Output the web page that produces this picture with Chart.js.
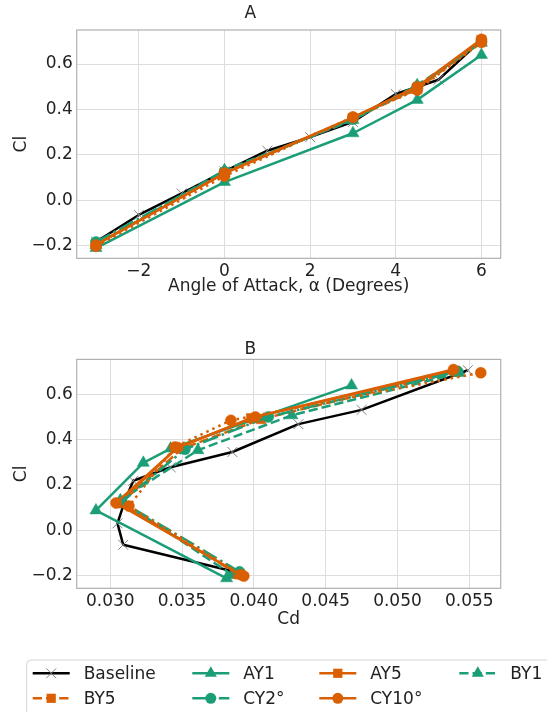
<!DOCTYPE html>
<html>
<head>
<meta charset="utf-8">
<title>Cl vs alpha and drag polar</title>
<script src="https://cdn.jsdelivr.net/npm/chart.js@4.4.1/dist/chart.umd.min.js"></script>
<style>
body { margin: 0; background: #fff; }
canvas { position: absolute; left: 0; }
#liftChart { top: 0; }
#polarChart { top: 329px; }
#legendBox { top: 640px; }
</style>
</head>
<body>
<canvas id="liftChart" width="547" height="300"></canvas>
<canvas id="polarChart" width="547" height="302"></canvas>
<canvas id="legendBox" width="547" height="72"></canvas>

<script>
// angles of attack, degrees
var alphaBase = [-3, -2, -1, 0, 1, 2, 3, 4, 5, 6];
var alpha = [-3, 0, 3, 4.5, 6];

// baseline wing
var baseCl = [-0.183, -0.065, 0.03, 0.127, 0.218, 0.278, 0.345, 0.468, 0.531, 0.706];
var baseCd = [0.0386, 0.0309, 0.0305, 0.0310, 0.0316, 0.0342, 0.0385, 0.0431, 0.0475, 0.0549];

// AY1
var ay1Cl = [-0.211, 0.080, 0.295, 0.442, 0.640];
var ay1ClPolar = [-0.213, 0.087, 0.297, 0.360, 0.639];
var ay1Cd = [0.0381, 0.0290, 0.0323, 0.0342, 0.0468];

// AY5
var ay5Cl = [-0.195, 0.118, 0.362, 0.495, 0.705];
var ay5Cd = [0.0390, 0.0306, 0.0346, 0.0398, 0.0540];

// BY1
var by1Cl = [-0.198, 0.132, 0.353, 0.507, 0.694];
var by1Cd = [0.0385, 0.0307, 0.0361, 0.04265, 0.0543];

// BY5
var by5Cl = [-0.195, 0.120, 0.360, 0.490, 0.700];
var by5Cd = [0.0389, 0.0307, 0.0350, 0.0405, 0.0541];

// CY2
var cy2Cl = [-0.184, 0.125, 0.357, 0.500, 0.700];
var cy2Cd = [0.0390, 0.0308, 0.0352, 0.0410, 0.0542];

// CY10
var cy10Cl = [-0.197, 0.120, 0.365, 0.500, 0.709];
var cy10Cd = [0.0391, 0.0304, 0.0347, 0.0401, 0.0539];

// CY10 second run (not in legend)
var cy10bCl = [-0.203, 0.106, 0.367, 0.485, 0.695];
var cy10bCd = [0.0393, 0.0313, 0.0345, 0.0384, 0.0558];

// axis ticks
var alphaTicks = [-2, 0, 2, 4, 6];
var cdTicks = [0.030, 0.035, 0.040, 0.045, 0.050, 0.055];
var clTicks = [-0.2, 0.0, 0.2, 0.4, 0.6];

var GREEN = '#1b9e77';
var ORANGE = '#d95f02';
var DASH = [9.25, 4];
var DASHDOT = [16, 4, 2.5, 4];
var DOT = [2.5, 4.1];

var series = [
    {label: 'Baseline', a: alphaBase, cl: baseCl, clp: baseCl, cd: baseCd, color: '#000000', dash: [], marker: 'crossRot', r: 7, legend: true},
    {label: 'AY1', a: alpha, cl: ay1Cl, clp: ay1ClPolar, cd: ay1Cd, color: GREEN, dash: [], marker: 'triangle', r: 7, legend: true},
    {label: 'AY5', a: alpha, cl: ay5Cl, clp: ay5Cl, cd: ay5Cd, color: ORANGE, dash: [], marker: 'rect', r: 6.5, legend: true},
    {label: 'BY1', a: alpha, cl: by1Cl, clp: by1Cl, cd: by1Cd, color: GREEN, dash: DASH, marker: 'triangle', r: 7, legend: true},
    {label: 'BY5', a: alpha, cl: by5Cl, clp: by5Cl, cd: by5Cd, color: ORANGE, dash: DASH, marker: 'rect', r: 6.5, legend: true},
    {label: 'CY2°', a: alpha, cl: cy2Cl, clp: cy2Cl, cd: cy2Cd, color: GREEN, dash: DASHDOT, marker: 'circle', r: 5.5, legend: true},
    {label: 'CY10°', a: alpha, cl: cy10Cl, clp: cy10Cl, cd: cy10Cd, color: ORANGE, dash: [], marker: 'circle', r: 5.5, legend: true},
    {label: 'CY10° b', a: alpha, cl: cy10bCl, clp: cy10bCl, cd: cy10bCd, color: ORANGE, dash: DOT, marker: 'circle', r: 5.5, legend: false}
];

Chart.defaults.font.family = "'DejaVu Sans'";
Chart.defaults.font.size = 17;
Chart.defaults.color = '#222';

function minus(s) { return s.replace('-', '\u2212'); }

function makeSets(polar) {
    return series.map(function (s, i) {
        var xs = polar ? s.cd : s.a;
        var ys = polar ? s.clp : s.cl;
        var cross = s.marker == 'crossRot';
        return {
            label: s.label,
            data: xs.map(function (x, j) { return {x: x, y: ys[j]}; }),
            showLine: true,
            borderColor: s.color,
            borderWidth: 2.5,
            borderDash: s.dash,
            borderJoinStyle: 'round',
            pointStyle: s.marker,
            pointRadius: s.r,
            pointHoverRadius: s.r,
            pointBackgroundColor: cross ? '#808080' : s.color,
            pointBorderColor: cross ? '#808080' : s.color,
            pointBorderWidth: cross ? 1 : 0.5,
            order: -i
        };
    });
}

// spines on all four sides
var framePlugin = {
    id: 'frame',
    afterDatasetsDraw: function (chart) {
        var a = chart.chartArea, c = chart.ctx;
        c.save();
        c.strokeStyle = '#b0b0b0';
        c.lineWidth = 1.2;
        c.strokeRect(a.left, a.top, a.right - a.left, a.bottom - a.top);
        c.restore();
    }
};

function makeChart(id, cfg) {
    return new Chart(document.getElementById(id), {
        type: 'scatter',
        data: {datasets: makeSets(cfg.polar)},
        options: {
            responsive: false,
            animation: false,
            events: [],
            layout: {padding: {left: 0, right: 46.3, top: 0, bottom: 0}},
            plugins: {
                legend: {display: false},
                tooltip: {enabled: false},
                title: {
                    display: true, text: cfg.title, color: '#222',
                    font: {size: 17, weight: 'normal'},
                    padding: cfg.titlePad
                }
            },
            scales: {
                x: {
                    type: 'linear', min: cfg.xMin, max: cfg.xMax,
                    afterBuildTicks: function (ax) { ax.ticks = cfg.xTicks.map(function (v) { return {value: v}; }); },
                    afterFit: function (ax) { ax.height = cfg.xHeight; },
                    ticks: {callback: cfg.xFmt, padding: 3, maxRotation: 0, autoSkip: false},
                    grid: {color: '#dddddd', lineWidth: 1, drawTicks: false},
                    border: {display: false},
                    title: {display: true, text: cfg.xTitle, padding: {top: 0, bottom: cfg.xTitlePad}}
                },
                y: {
                    type: 'linear', min: cfg.yMin, max: cfg.yMax,
                    afterBuildTicks: function (ax) { ax.ticks = clTicks.map(function (v) { return {value: v}; }); },
                    afterFit: function (ax) { ax.width = 76.7; },
                    ticks: {callback: function (v) { return minus(v.toFixed(1)); }, padding: 4, autoSkip: false},
                    grid: {color: '#dddddd', lineWidth: 1, drawTicks: false},
                    border: {display: false},
                    title: {display: true, text: 'Cl', padding: {top: 11, bottom: 0}}
                }
            }
        },
        plugins: [framePlugin]
    });
}

makeChart('liftChart', {
    polar: false, title: 'A', titlePad: {top: 3, bottom: 6.6},
    xMin: -3.45, xMax: 6.45, xTicks: alphaTicks, xHeight: 41.7,
    xFmt: function (v) { return minus(String(v)); },
    xTitle: 'Angle of Attack, \u03b1 (Degrees)', xTitlePad: 2.8,
    yMin: -0.256, yMax: 0.750
});

makeChart('polarChart', {
    polar: true, title: 'B', titlePad: {top: 10.8, bottom: -0.8},
    xMin: 0.02766, xMax: 0.05719, xTicks: cdTicks, xHeight: 42.7,
    xFmt: function (v) { return v.toFixed(3); },
    xTitle: 'Cd', xTitlePad: 0.8,
    yMin: -0.257, yMax: 0.754
});

// legend below both plots
function drawMarker(c, style, x, y, r) {
    c.beginPath();
    if (style == 'circle') {
        c.arc(x, y, r, 0, Math.PI * 2);
        c.fill();
    } else if (style == 'triangle') {
        c.moveTo(x, y - r);
        c.lineTo(x + r * Math.sin(Math.PI * 2 / 3), y + r * 0.5);
        c.lineTo(x - r * Math.sin(Math.PI * 2 / 3), y + r * 0.5);
        c.closePath();
        c.fill();
    } else if (style == 'rect') {
        var h = r * Math.SQRT1_2;
        c.rect(x - h, y - h, 2 * h, 2 * h);
        c.fill();
    } else {
        var d = r * Math.SQRT1_2;
        c.moveTo(x - d, y - d); c.lineTo(x + d, y + d);
        c.moveTo(x - d, y + d); c.lineTo(x + d, y - d);
        c.stroke();
    }
}

(function () {
    var c = document.getElementById('legendBox').getContext('2d');
    var cols = [32.7, 192.3, 319.3, 459.3];
    var rows = [33.3, 58.3];

    // frame, runs off the right and bottom edge
    c.strokeStyle = '#d5d5d5';
    c.lineWidth = 1;
    c.beginPath();
    c.moveTo(26.7, 100); c.lineTo(26.7, 24);
    c.arcTo(26.7, 20, 30.7, 20, 4);
    c.lineTo(600, 20);
    c.stroke();

    c.font = "17px 'DejaVu Sans'";
    c.textBaseline = 'middle';
    var k = 0;
    series.forEach(function (s) {
        if (!s.legend) return;
        var x = cols[k % 4], y = rows[Math.floor(k / 4)];
        k++;
        c.save();
        c.strokeStyle = s.color;
        c.lineWidth = 2.5;
        c.setLineDash(s.dash);
        c.beginPath();
        c.moveTo(x, y); c.lineTo(x + 37, y);
        c.stroke();
        c.restore();
        c.save();
        var cross = s.marker == 'crossRot';
        c.fillStyle = cross ? '#808080' : s.color;
        c.strokeStyle = cross ? '#808080' : s.color;
        c.lineWidth = 1;
        drawMarker(c, s.marker, x + 18.5, y, s.r);
        c.restore();
        c.fillStyle = '#222';
        c.fillText(s.label, x + 51, y + 1);
    });
})();
</script>
</body>
</html>
